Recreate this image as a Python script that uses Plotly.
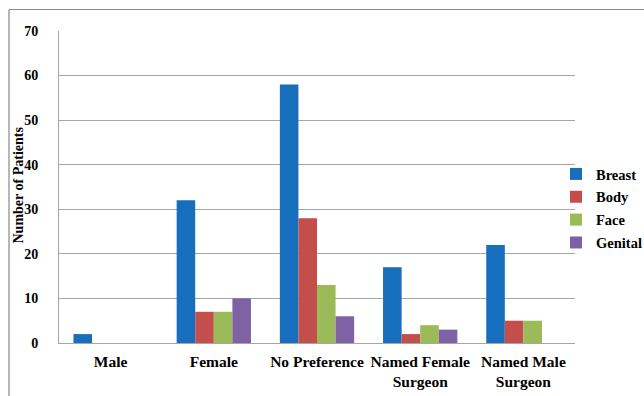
import plotly.graph_objects as go

# Patient counts by surgeon-gender preference and procedure area
categories = ["Male", "Female", "No Preference", "Named Female<br>Surgeon", "Named Male<br>Surgeon"]
breast = [2, 32, 58, 17, 22]
body = [0, 7, 28, 2, 5]
face = [0, 7, 13, 4, 5]
genital = [0, 10, 6, 3, 0]

series = [
    ("Breast", breast, "#166EBD"),
    ("Body", body, "#C44E4C"),
    ("Face", face, "#9BBB59"),
    ("Genital", genital, "#7E62A3"),
]

W, H = 644, 396
ML, MR, MT, MB = 59, 69, 31, 53
font_family = "Liberation Serif, Times New Roman, serif"

fig = go.Figure()
for name, vals, color in series:
    fig.add_trace(go.Bar(
        x=categories, y=vals, name=name, legendgroup=name,
        marker=dict(color=color, line=dict(width=0)),
    ))

pw, ph = W - ML - MR, H - MT - MB


def px_x(p):
    return (p - ML) / pw


def px_y(p):
    return (H - MB - p) / ph


# outer frame: left and top edges of a box that runs past the page
fig.add_shape(type="line", xref="paper", yref="paper",
              x0=px_x(9), x1=px_x(9), y0=px_y(9.5), y1=px_y(400),
              line=dict(color="#6E6E6E", width=1))
fig.add_shape(type="line", xref="paper", yref="paper",
              x0=px_x(9), x1=px_x(650), y0=px_y(9.5), y1=px_y(9.5),
              line=dict(color="#8A8A8A", width=1.2))

# y-axis title
fig.add_annotation(
    text="Number of Patients", textangle=-90,
    xref="paper", yref="paper", x=px_x(17.5), y=px_y(185),
    xanchor="center", yanchor="middle", showarrow=False,
    font=dict(family=font_family, size=14, color="black", weight="bold"),
)

fig.update_layout(
    width=W, height=H,
    margin=dict(l=ML, r=MR, t=MT, b=MB, autoexpand=False),
    paper_bgcolor="white", plot_bgcolor="white",
    barmode="group", bargap=0.28, bargroupgap=0,
    font=dict(family=font_family, size=13, color="black"),
    showlegend=True,
    legend=dict(
        x=px_x(556), xanchor="left",
        y=px_y(208.5), yanchor="middle",
        font=dict(family=font_family, size=14.5, color="black", weight="bold"),
        itemwidth=30, tracegroupgap=1, traceorder="grouped",
        bgcolor="rgba(0,0,0,0)", borderwidth=0,
    ),
    xaxis=dict(
        showline=True, linecolor="#A6A6A6", linewidth=1,
        ticks="", showgrid=False, ticklabelstandoff=4,
        tickfont=dict(family=font_family, size=15.5, color="black", weight="bold"),
    ),
    yaxis=dict(
        range=[0, 70], dtick=10,
        showline=True, linecolor="#A6A6A6", linewidth=1,
        showgrid=True, gridcolor="#A6A6A6", gridwidth=1,
        zeroline=False, ticks="", ticklabelstandoff=17,
        tickfont=dict(family=font_family, size=14, color="black", weight="bold"),
    ),
)

fig.write_html("out.html")
